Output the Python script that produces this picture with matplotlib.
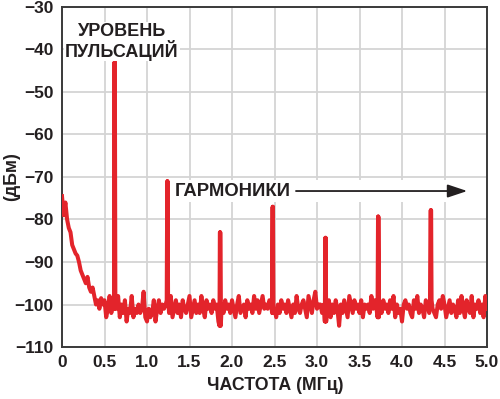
import numpy as np
import matplotlib
matplotlib.use("Agg")
import matplotlib.pyplot as plt

# ---- data ----
freq_step = 0.02  # MHz, sampling of the noise floor
floor_dbm = [
    -74.5, -79, -76, -80, -82, -83, -86, -87, -88, -88.5,
    -90, -92, -93, -94, -95, -93.5, -96, -97, -96, -98,
    -100, -99, -101, -98.5, -100, -99, -103, -101, -98, -102,
    -100, -101, -101, -98, -103, -100, -102, -99, -104, -101,
    -102, -98, -103, -101, -102, -100, -102, -101, -97, -103,
    -104, -101, -103, -102, -99, -104, -101, -99, -102, -100,
    -101, -100, -99, -102, -98, -103, -101, -99, -102, -100,
    -103, -99, -101, -102, -100, -98, -103, -101, -99, -102,
    -100, -102, -98, -101, -103, -99, -101, -100, -102, -99,
    -101, -100, -104, -105, -100, -102, -99, -101, -100, -102,
    -99, -101, -103, -100, -98, -102, -101, -100, -103, -99,
    -101, -100, -102, -98, -101, -99, -102, -100, -98, -101,
    -100, -101, -99, -100, -102, -101, -103, -100, -102, -99,
    -101, -100, -102, -99, -101, -103, -100, -102, -98, -101,
    -102, -100, -99, -101, -103, -98, -100, -102, -99, -97,
    -101, -100, -100, -102, -100, -104, -101, -99, -103, -100,
    -102, -99, -101, -105, -100, -102, -99, -101, -103, -98,
    -100, -102, -99, -101, -100, -102, -99, -103, -100, -101,
    -100, -102, -98, -101, -99, -101, -103, -100, -102, -99,
    -101, -100, -102, -99, -101, -98, -103, -100, -102, -101,
    -104, -100, -99, -101, -100, -102, -103, -99, -101, -98,
    -102, -100, -101, -103, -99, -100, -102, -99, -101, -102,
    -103, -100, -99, -101, -98, -100, -103, -101, -99, -102,
    -100, -101, -103, -99, -102, -98, -101, -103, -99, -101,
    -102, -98, -103, -100, -101, -99, -102, -100, -103, -98,
    -101,
]
peak_freq = [0.62, 1.24, 1.86, 2.48, 3.10, 3.72, 4.34]
peak_dbm = [-43, -71, -83, -77, -84.3, -79.3, -77.8]

x_ticks = [0, 0.5, 1.0, 1.5, 2.0, 2.5, 3.0, 3.5, 4.0, 4.5, 5.0]
x_tick_labels = ["0", "0.5", "1.0", "1.5", "2.0", "2.5", "3.0", "3.5", "4.0", "4.5", "5.0"]
y_ticks = [-110, -100, -90, -80, -70, -60, -50, -40, -30]
y_tick_labels = ["\u2212110", "\u2212100", "\u221290", "\u221280", "\u221270",
                 "\u221260", "\u221250", "\u221240", "\u221230"]

# ---- build trace ----
fx = np.arange(len(floor_dbm)) * freq_step
fy = np.array(floor_dbm, dtype=float)
xs = list(fx)
ys = list(fy)
for pf, pd in zip(peak_freq, peak_dbm):
    base = np.interp(pf, fx, fy)
    xs += [pf - 0.008, pf - 0.002, pf + 0.002, pf + 0.008]
    ys += [base, pd, pd, base]
order = np.argsort(xs, kind="stable")
xs = np.array(xs)[order]
ys = np.array(ys)[order]

plt.rcParams['font.family'] = ['Liberation Sans', 'DejaVu Sans']
fig = plt.figure(figsize=(5.0, 3.99), dpi=100)
ax = fig.add_axes([0.124, 0.1303, 0.850, 0.8522])

ax.plot(xs, ys, color="#e3242b", lw=2.9, solid_joinstyle="round", zorder=3)

ax.set_xlim(0, 5.0)
ax.set_ylim(-110, -30)
ax.set_xticks(x_ticks)
ax.set_xticklabels(x_tick_labels)
ax.set_yticks(y_ticks)
ax.set_yticklabels(y_tick_labels)
ax.tick_params(length=0, pad=6, labelsize=12.5, colors="#231f20")
for lab in ax.get_xticklabels() + ax.get_yticklabels():
    lab.set_fontweight("bold")
ax.grid(True, color="#d4d4d4", lw=1.3, zorder=0)
ax.set_axisbelow(True)
for s in ax.spines.values():
    s.set_color("#3a3a3a")
    s.set_linewidth(1.4)

ax.set_xlabel("ЧАСТОТА (МГц)", fontsize=12.8, fontweight="bold", color="#231f20")
ax.xaxis.set_label_coords(0.502, -0.088)
ax.set_ylabel("(дБм)", fontsize=12.8, fontweight="bold", color="#231f20")
ax.yaxis.set_label_coords(-0.099, 0.5)

ax.text(0.706, -38.2, "УРОВЕНЬ\nПУЛЬСАЦИЙ", ha="center", va="center",
        fontsize=13, fontweight="bold", color="#231f20", linespacing=0.98,
        bbox=dict(facecolor="white", edgecolor="none", pad=0.5), zorder=4)

ax.text(1.33, -73.3, "ГАРМОНИКИ", ha="left", va="center",
        fontsize=13.3, fontweight="bold", color="#231f20",
        bbox=dict(facecolor="white", edgecolor="none", pad=2), zorder=4)
ax.fill_between([2.7, 4.85], -75.8, -70.8, color="white", zorder=2.5, lw=0)
ax.annotate("", xy=(4.8, -73.3), xytext=(2.72, -73.3),
            arrowprops=dict(arrowstyle="-|>,head_length=1.2,head_width=0.4",
                            color="#231f20", lw=1.3), zorder=4)

fig.savefig("out.png", dpi=100)
